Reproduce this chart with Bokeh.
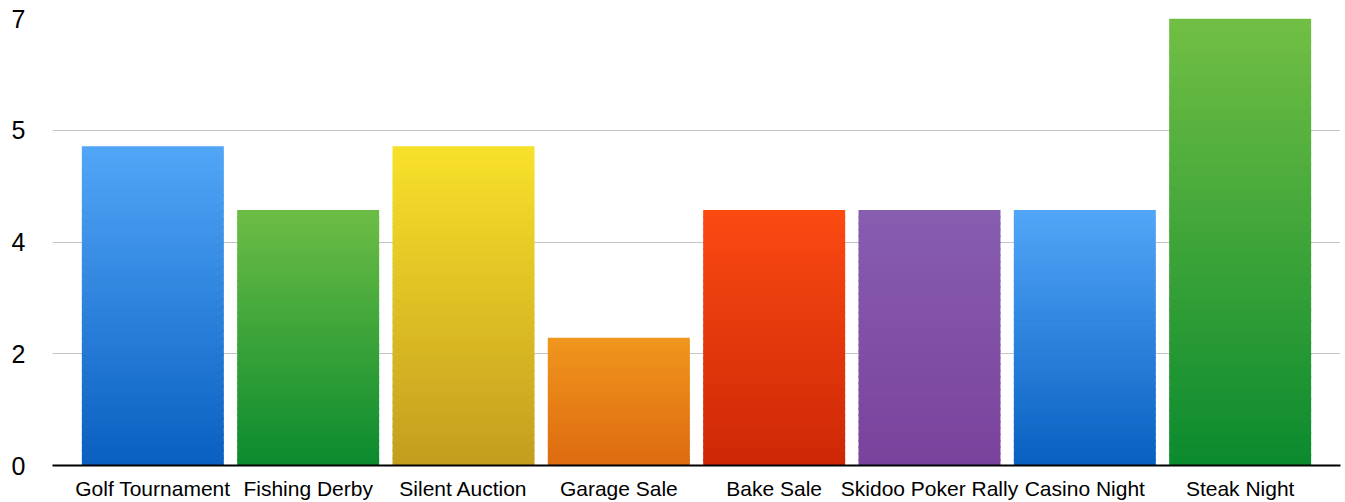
import numpy as np
from bokeh.plotting import figure
from bokeh.models import FactorRange, Range1d, FixedTicker, ColumnDataSource
from bokeh.embed import file_html
from bokeh.resources import INLINE

categories = ["Golf Tournament", "Fishing Derby", "Silent Auction", "Garage Sale",
              "Bake Sale", "Skidoo Poker Rally", "Casino Night", "Steak Night"]
values = [5, 4, 5, 2, 4, 4, 4, 7]
top_colors = ["#52a6f8", "#6cbd45", "#f8e12a", "#f0961d", "#fb4a12", "#875db0", "#52a6f8", "#72bf44"]
bottom_colors = ["#085fbf", "#0a8a2e", "#c39d1f", "#dd6a10", "#cc2706", "#7a429c", "#085fbf", "#0a8a2e"]
y_ticks = [0, 1.75, 3.5, 5.25, 7]
y_tick_labels = ["0", "2", "4", "5", "7"]

def hex_to_rgb(h):
    h = h.lstrip("#")
    return np.array([int(h[i:i + 2], 16) for i in (0, 2, 4)], dtype=float)

def rgb_to_hex(c):
    return "#%02x%02x%02x" % tuple(int(round(v)) for v in c)

# gradient fill: each bar is split into thin slices that overlap slightly
steps = 40
overlap = 0.025
xs, bots, tops, cols = [], [], [], []
for cat, v, tc, bc in zip(categories, values, top_colors, bottom_colors):
    t = hex_to_rgb(tc)
    b = hex_to_rgb(bc)
    for i in range(steps):
        f0 = i / steps
        f1 = (i + 1) / steps
        xs.append(cat)
        bots.append(max(0.0, v * f0 - overlap))
        tops.append(v * f1)
        fm = (f0 + f1) / 2
        cols.append(rgb_to_hex(b + (t - b) * fm))

src = ColumnDataSource(dict(x=xs, bottom=bots, top=tops, color=cols))

p = figure(
    x_range=FactorRange(*categories, range_padding=0.0365),
    y_range=Range1d(0, 7),
    width=1342, height=502,
    output_backend="svg", toolbar_location=None,
    min_border_left=52, min_border_right=2, min_border_top=18, min_border_bottom=36,
)
p.outline_line_color = None
p.background_fill_color = "white"
p.border_fill_color = "white"

p.vbar(x="x", top="top", bottom="bottom", width=0.914, fill_color="color",
       line_color=None, source=src)

p.xgrid.grid_line_color = None
p.ygrid.grid_line_color = "#c6c6c6"
p.ygrid.grid_line_width = 1

p.yaxis.ticker = FixedTicker(ticks=y_ticks)
p.yaxis.major_label_overrides = {t: l for t, l in zip(y_ticks, y_tick_labels)}
p.yaxis.axis_line_color = None
p.yaxis.major_tick_line_color = None
p.yaxis.minor_tick_line_color = None
p.yaxis.major_tick_out = 0
p.yaxis.major_tick_in = 0
p.yaxis.major_label_text_font = "Liberation Sans"
p.yaxis.major_label_text_font_size = "25px"
p.yaxis.major_label_text_color = "black"
p.yaxis.major_label_standoff = 27

p.xaxis.axis_line_color = "black"
p.xaxis.axis_line_width = 2
p.xaxis.major_tick_line_color = None
p.xaxis.minor_tick_line_color = None
p.xaxis.major_tick_out = 0
p.xaxis.major_tick_in = 0
p.xaxis.major_label_text_font = "Liberation Sans"
p.xaxis.major_label_text_font_size = "21px"
p.xaxis.major_label_text_color = "black"
p.xaxis.major_label_standoff = 11

open("out.html", "w").write(file_html(p, INLINE))
